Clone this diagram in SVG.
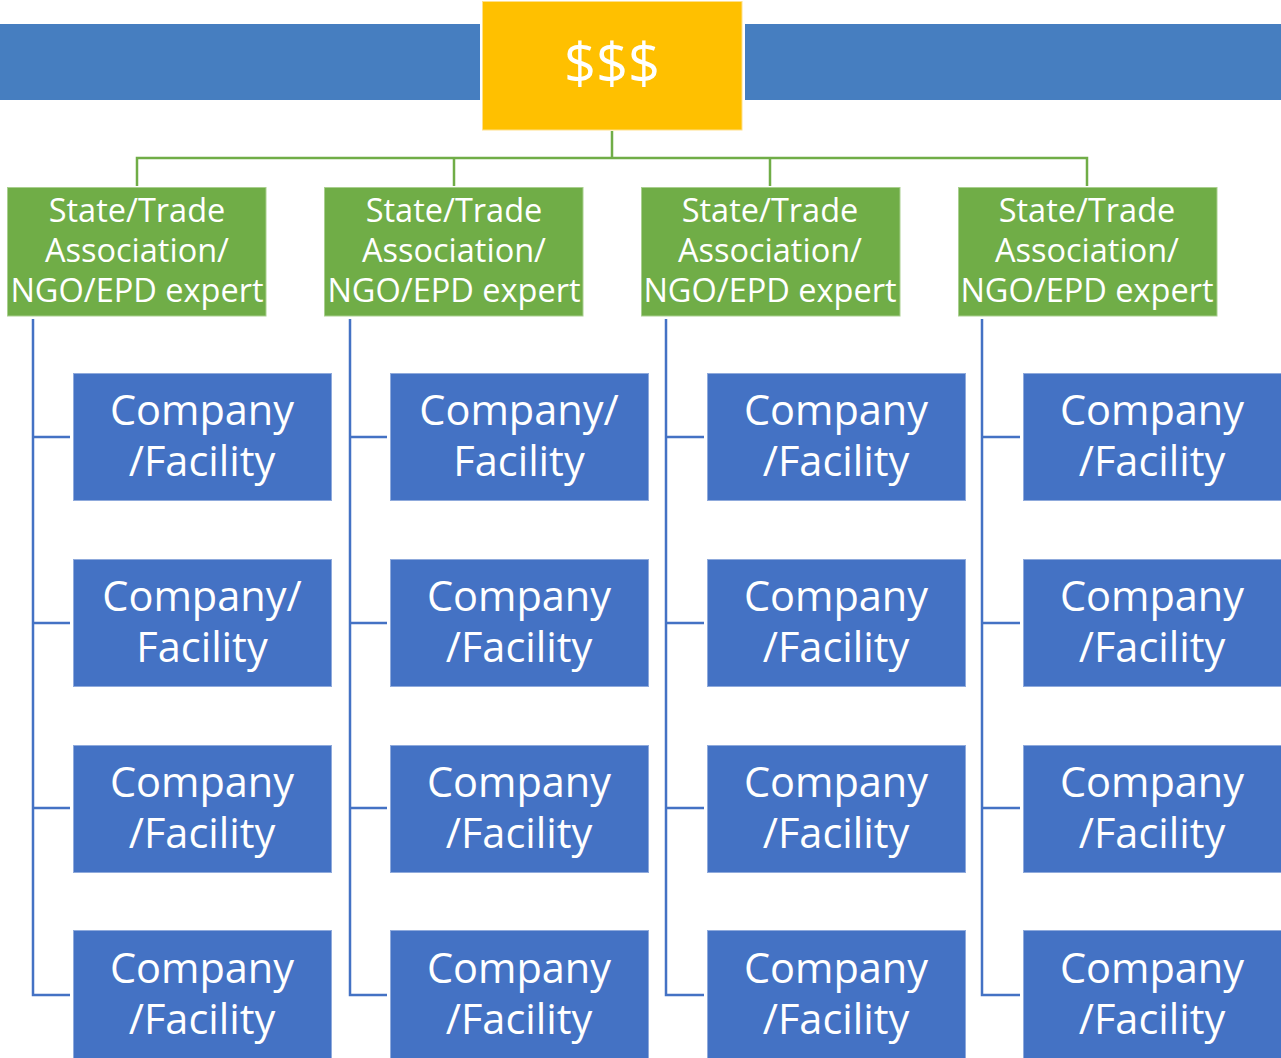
<svg xmlns="http://www.w3.org/2000/svg" width="1281" height="1058" viewBox="0 0 1281 1058">
<style>
.banner{fill:#467EC0}
.gold{fill:#FFC000;stroke:#FFE08A;stroke-width:1}
.grn{fill:#70AD47;stroke:#A9CF8F;stroke-width:1}
.co{fill:#4472C4;stroke:#8FAADC;stroke-width:1}
.gl{fill:none;stroke:#70AD47;stroke-width:2.5}
.bl{fill:none;stroke:#4472C4;stroke-width:2.5}
text{fill:#fff;font-family:"Open Sans","Noto Sans","DejaVu Sans",sans-serif;text-anchor:middle}
.t1{font-size:56px}
.t2{font-size:32.5px}
.t3{font-size:41.5px}
</style>
<rect width="1281" height="1058" fill="#fff"/>
<g id="banner">
<rect class="banner" x="0" y="24" width="480" height="76"/>
<rect class="banner" x="745" y="24" width="536" height="76"/>
</g>
<g id="connectors">
<path class="gl" d="M612 131V158M137 186V158H1087V186M454 158V186M770 158V186"/>
<path class="bl" d="M33 319V995H70M33 437H70M33 623H70M33 808H70"/>
<path class="bl" d="M350 319V995H387M350 437H387M350 623H387M350 808H387"/>
<path class="bl" d="M666 319V995H704M666 437H704M666 623H704M666 808H704"/>
<path class="bl" d="M982 319V995H1020M982 437H1020M982 623H1020M982 808H1020"/>
</g>
<g id="root"><rect class="gold" x="482.5" y="1.5" width="259.5" height="128.5"/><text class="t1" x="612" y="84">$$$</text></g>
<g id="expert1"><rect class="grn" x="7.5" y="187.5" width="258.5" height="128.5"/><text class="t2" x="137"><tspan x="137" y="222">State/Trade</tspan><tspan x="137" y="262">Association/</tspan><tspan x="137" y="302">NGO/EPD expert</tspan></text></g>
<g id="expert2"><rect class="grn" x="324.5" y="187.5" width="258.5" height="128.5"/><text class="t2" x="454"><tspan x="454" y="222">State/Trade</tspan><tspan x="454" y="262">Association/</tspan><tspan x="454" y="302">NGO/EPD expert</tspan></text></g>
<g id="expert3"><rect class="grn" x="641.5" y="187.5" width="258.5" height="128.5"/><text class="t2" x="770"><tspan x="770" y="222">State/Trade</tspan><tspan x="770" y="262">Association/</tspan><tspan x="770" y="302">NGO/EPD expert</tspan></text></g>
<g id="expert4"><rect class="grn" x="958.5" y="187.5" width="258.5" height="128.5"/><text class="t2" x="1087"><tspan x="1087" y="222">State/Trade</tspan><tspan x="1087" y="262">Association/</tspan><tspan x="1087" y="302">NGO/EPD expert</tspan></text></g>

<g id="c1r1"><rect class="co" x="73.5" y="373.5" width="258" height="127"/><text class="t3"><tspan x="202" y="425">Company</tspan><tspan x="202" y="476">/Facility</tspan></text></g>
<g id="c1r2"><rect class="co" x="73.5" y="559.5" width="258" height="127"/><text class="t3"><tspan x="202" y="611">Company/</tspan><tspan x="202" y="662">Facility</tspan></text></g>
<g id="c1r3"><rect class="co" x="73.5" y="745.5" width="258" height="127"/><text class="t3"><tspan x="202" y="797">Company</tspan><tspan x="202" y="848">/Facility</tspan></text></g>
<g id="c1r4"><rect class="co" x="73.5" y="930.5" width="258" height="130"/><text class="t3"><tspan x="202" y="983">Company</tspan><tspan x="202" y="1034">/Facility</tspan></text></g>

<g id="c2r1"><rect class="co" x="390.5" y="373.5" width="258" height="127"/><text class="t3"><tspan x="519" y="425">Company/</tspan><tspan x="519" y="476">Facility</tspan></text></g>
<g id="c2r2"><rect class="co" x="390.5" y="559.5" width="258" height="127"/><text class="t3"><tspan x="519" y="611">Company</tspan><tspan x="519" y="662">/Facility</tspan></text></g>
<g id="c2r3"><rect class="co" x="390.5" y="745.5" width="258" height="127"/><text class="t3"><tspan x="519" y="797">Company</tspan><tspan x="519" y="848">/Facility</tspan></text></g>
<g id="c2r4"><rect class="co" x="390.5" y="930.5" width="258" height="130"/><text class="t3"><tspan x="519" y="983">Company</tspan><tspan x="519" y="1034">/Facility</tspan></text></g>

<g id="c3r1"><rect class="co" x="707.5" y="373.5" width="258" height="127"/><text class="t3"><tspan x="836" y="425">Company</tspan><tspan x="836" y="476">/Facility</tspan></text></g>
<g id="c3r2"><rect class="co" x="707.5" y="559.5" width="258" height="127"/><text class="t3"><tspan x="836" y="611">Company</tspan><tspan x="836" y="662">/Facility</tspan></text></g>
<g id="c3r3"><rect class="co" x="707.5" y="745.5" width="258" height="127"/><text class="t3"><tspan x="836" y="797">Company</tspan><tspan x="836" y="848">/Facility</tspan></text></g>
<g id="c3r4"><rect class="co" x="707.5" y="930.5" width="258" height="130"/><text class="t3"><tspan x="836" y="983">Company</tspan><tspan x="836" y="1034">/Facility</tspan></text></g>

<g id="c4r1"><rect class="co" x="1023.5" y="373.5" width="260" height="127"/><text class="t3"><tspan x="1152" y="425">Company</tspan><tspan x="1152" y="476">/Facility</tspan></text></g>
<g id="c4r2"><rect class="co" x="1023.5" y="559.5" width="260" height="127"/><text class="t3"><tspan x="1152" y="611">Company</tspan><tspan x="1152" y="662">/Facility</tspan></text></g>
<g id="c4r3"><rect class="co" x="1023.5" y="745.5" width="260" height="127"/><text class="t3"><tspan x="1152" y="797">Company</tspan><tspan x="1152" y="848">/Facility</tspan></text></g>
<g id="c4r4"><rect class="co" x="1023.5" y="930.5" width="260" height="130"/><text class="t3"><tspan x="1152" y="983">Company</tspan><tspan x="1152" y="1034">/Facility</tspan></text></g>
</svg>
